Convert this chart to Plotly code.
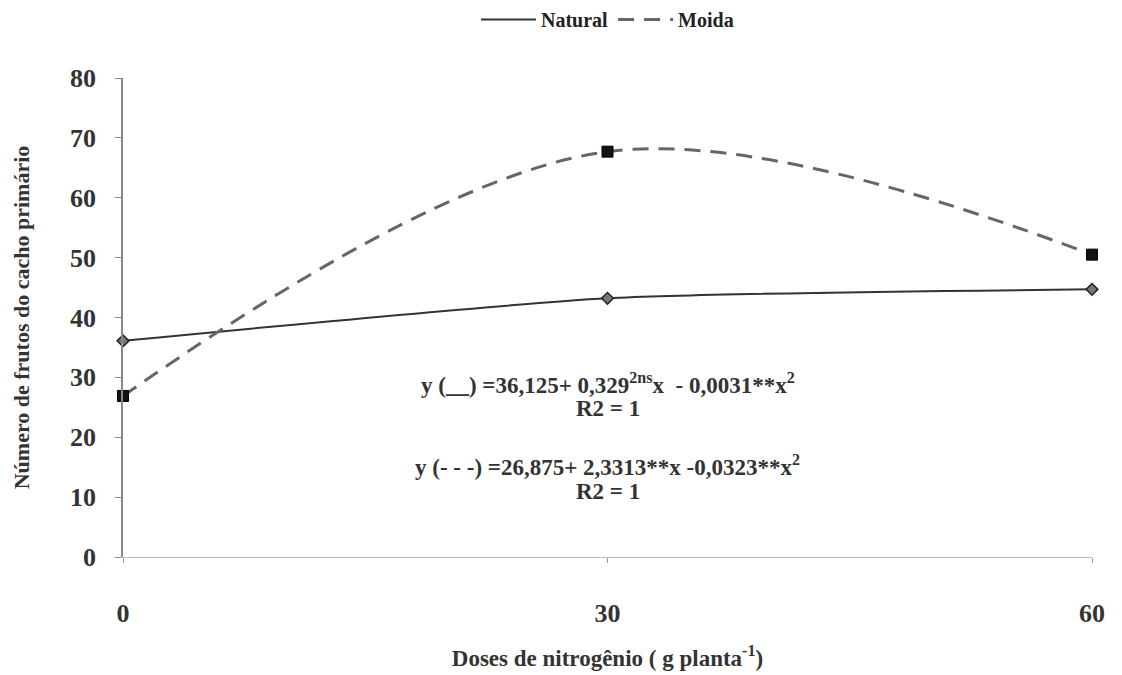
import plotly.graph_objects as go

# Doses de nitrogênio (g planta^-1)
doses = [0, 30, 60]
# Número de frutos do cacho primário
natural = [36.1, 43.2, 44.7]
moida = [26.9, 67.7, 50.5]

y_ticks = [0, 10, 20, 30, 40, 50, 60, 70, 80]
x_ticks = [0, 30, 60]

serif = "Liberation Serif, DejaVu Serif, Times New Roman, serif"

fig = go.Figure()

fig.add_trace(go.Scatter(
    x=doses, y=natural, name="Natural", mode="lines",
    line=dict(color="#333333", width=2, shape="spline", smoothing=0.6),
))
fig.add_trace(go.Scatter(
    x=doses, y=moida, name="Moida", mode="lines",
    line=dict(color="#666666", width=3, dash="16px,10px", shape="spline", smoothing=1.0),
))
fig.add_trace(go.Scatter(
    x=doses, y=natural, mode="markers", showlegend=False,
    marker=dict(symbol="diamond", size=9, color="#777777",
                line=dict(color="#222222", width=1.5)),
    cliponaxis=False,
))
fig.add_trace(go.Scatter(
    x=doses, y=moida, mode="markers", showlegend=False,
    marker=dict(symbol="square", size=11, color="#111111",
                line=dict(color="#000000", width=1)),
    cliponaxis=False,
))

eq_font = dict(family=serif, size=23, color="#333333", weight="bold")
fig.add_annotation(x=30, y=29, xref="x", yref="y", showarrow=False, font=eq_font,
                   text="y (__) =36,125+ 0,329<sup>2ns</sup>x  - 0,0031**x<sup>2</sup>")
fig.add_annotation(x=30, y=24.8, xref="x", yref="y", showarrow=False, font=eq_font,
                   text="R2 = 1")
fig.add_annotation(x=30, y=15.3, xref="x", yref="y", showarrow=False, font=eq_font,
                   text="y (- - -) =26,875+ 2,3313**x -0,0323**x<sup>2</sup>")
fig.add_annotation(x=30, y=10.9, xref="x", yref="y", showarrow=False, font=eq_font,
                   text="R2 = 1")

fig.update_layout(
    width=1122, height=675,
    margin=dict(l=123, r=30, t=78, b=118, autoexpand=False),
    paper_bgcolor="white", plot_bgcolor="white",
    font=dict(family=serif, color="#222222"),
    showlegend=True,
    legend=dict(orientation="h", x=0.5, xref="paper", xanchor="center",
                y=1.0, yref="container", yanchor="top",
                font=dict(family=serif, size=20, color="#222222", weight="bold"),
                itemwidth=55, traceorder="normal"),
    xaxis=dict(
        range=[0, 60], tickvals=x_ticks, ticktext=[str(v) for v in x_ticks],
        showgrid=False, zeroline=False, showline=True, linecolor="#bbbbbb", linewidth=1,
        ticks="outside", ticklen=5, tickcolor="#999999",
        tickfont=dict(family=serif, size=26, color="#333333", weight="bold"),
        ticklabelstandoff=28,
        title=dict(text="Doses de nitrogênio ( g planta<sup>-1</sup>)",
                   font=dict(family=serif, size=23, color="#333333", weight="bold"), standoff=22),
    ),
    yaxis=dict(
        range=[0, 80], tickvals=y_ticks,
        showgrid=False, zeroline=False, showline=True, linecolor="#888888", linewidth=1.5,
        ticks="outside", ticklen=6, tickcolor="#888888",
        tickfont=dict(family=serif, size=26, color="#333333", weight="bold"),
        ticklabelstandoff=14,
        title=dict(text="Número de frutos do cacho primário",
                   font=dict(family=serif, size=22, color="#333333", weight="bold"), standoff=34),
    ),
)

fig.write_html("out.html")
